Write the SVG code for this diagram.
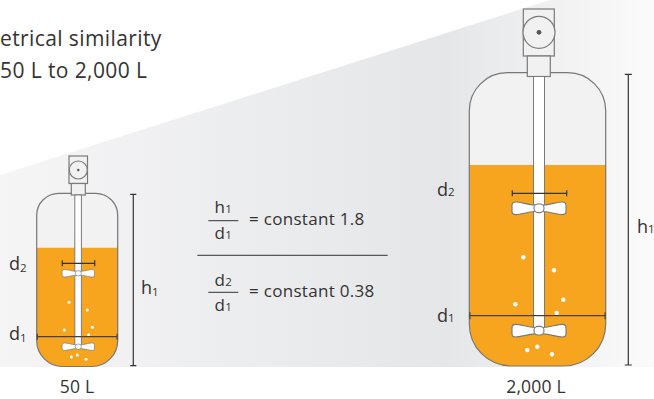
<svg xmlns="http://www.w3.org/2000/svg" width="654" height="399" viewBox="0 0 654 399">
  <defs>
    <linearGradient id="bgGrad" x1="0" y1="0" x2="654" y2="0" gradientUnits="userSpaceOnUse">
      <stop offset="0" stop-color="#f5f5f6"/>
      <stop offset="0.68" stop-color="#e5e6e8"/>
      <stop offset="1" stop-color="#fbfbfb"/>
    </linearGradient>
    <!-- bow-tie impeller blade, centred on the shaft, half-width 27 -->
    <g id="impeller">
      <path class="blade" d="M-4,-3.2 C-12,-3.8 -18,-6.3 -23.5,-6.3 Q-27,-6.3 -27,-3 L-27,3 Q-27,6.3 -23.5,6.3 C-18,6.3 -12,3.8 -4,3.2 L4,3.2 C12,3.8 18,6.3 23.5,6.3 Q27,6.3 27,3 L27,-3 Q27,-6.3 23.5,-6.3 C18,-6.3 12,-3.8 4,-3.2 Z"/>
      <rect class="blade" x="-5" y="-4.3" width="10" height="8.6" rx="4"/>
    </g>
  </defs>
  <style>
    .txt { font-family: "Open Sans", "Liberation Sans", sans-serif; fill: #333333; }
    .title { font-size: 21px; letter-spacing: 0.4px; }
    .cap { font-size: 17.5px; letter-spacing: 0.2px; }
    .lbl { font-size: 18px; }
    .sub { font-size: 11.5px; }
    .eq { font-size: 17px; letter-spacing: 0.3px; }
    .shell { fill: #f2f2f3; stroke: none; }
    .outline { fill: none; stroke: #777777; stroke-width: 1.2; }
    .liquid { fill: #f7a51f; }
    .part { fill: #f1f1f2; stroke: #7a7a7a; stroke-width: 1.2; }
    .shaft { fill: #ffffff; stroke: #7a7a7a; stroke-width: 1; }
    .blade { fill: #ffffff; stroke: #777777; stroke-width: 1.1; }
    .bubble { fill: #ffffff; }
    .dim { fill: none; stroke: #333333; stroke-width: 1.2; }
    .dimDark { fill: none; stroke: #4a4036; stroke-width: 1.2; }
    .rule { fill: none; stroke: #333333; stroke-width: 1; }
  </style>

  <!-- widening grey backdrop -->
  <polygon points="0,175 550,0 654,0 654,367 0,367" fill="url(#bgGrad)"/>

  <!-- heading -->
  <g id="heading">
    <text class="txt title" x="0" y="46">etrical similarity</text>
    <text class="txt title" x="0" y="78">50 L to 2,000 L</text>
  </g>

  <!-- 50 L vessel -->
  <g id="vessel-50L">
    <path class="shell" d="M36.7,215.3 A22,22 0 0 1 58.7,193.3 L95.7,193.3 A22,22 0 0 1 117.7,215.3 L117.7,340.5 A26,26 0 0 1 91.7,366.5 L62.7,366.5 A26,26 0 0 1 36.7,340.5 Z"/>
    <path class="liquid" d="M36.7,247.7 L117.7,247.7 L117.7,340.5 A26,26 0 0 1 91.7,366.5 L62.7,366.5 A26,26 0 0 1 36.7,340.5 Z"/>
    <path class="outline" d="M36.7,215.3 A22,22 0 0 1 58.7,193.3 L95.7,193.3 A22,22 0 0 1 117.7,215.3 L117.7,340.5 A26,26 0 0 1 91.7,366.5 L62.7,366.5 A26,26 0 0 1 36.7,340.5 Z"/>
    <!-- drive -->
    <rect class="part" x="69" y="156" width="18.5" height="27.5"/>
    <circle class="part" cx="78.3" cy="170" r="9"/>
    <circle cx="78.3" cy="170" r="1.2" fill="#555555"/>
    <rect class="part" x="71.3" y="183.5" width="14" height="11.5"/>
    <!-- shaft and impellers -->
    <rect class="shaft" x="74.8" y="195" width="6.6" height="152"/>
    <use href="#impeller" transform="translate(78.3,273.3) scale(0.6)"/>
    <use href="#impeller" transform="translate(78.3,346.7) scale(0.6)"/>
    <!-- gas bubbles -->
    <circle class="bubble" cx="69" cy="302.3" r="1.5"/>
    <circle class="bubble" cx="87.3" cy="310" r="1.5"/>
    <circle class="bubble" cx="64.3" cy="330" r="1.5"/>
    <circle class="bubble" cx="92.3" cy="327.3" r="1.5"/>
    <circle class="bubble" cx="88.7" cy="334.7" r="1.5"/>
    <circle class="bubble" cx="71.3" cy="357" r="1.5"/>
    <circle class="bubble" cx="77.3" cy="355" r="1.5"/>
    <circle class="bubble" cx="86" cy="359.3" r="1.5"/>
  </g>

  <!-- 2,000 L vessel -->
  <g id="vessel-2000L">
    <path class="shell" d="M469.3,110.7 A38,38 0 0 1 507.3,72.7 L567.7,72.7 A38,38 0 0 1 605.7,110.7 L605.7,324 A42,42 0 0 1 563.7,366 L511.3,366 A42,42 0 0 1 469.3,324 Z"/>
    <path class="liquid" d="M469.3,165 L605.7,165 L605.7,324 A42,42 0 0 1 563.7,366 L511.3,366 A42,42 0 0 1 469.3,324 Z"/>
    <path class="outline" d="M469.3,110.7 A38,38 0 0 1 507.3,72.7 L567.7,72.7 A38,38 0 0 1 605.7,110.7 L605.7,324 A42,42 0 0 1 563.7,366 L511.3,366 A42,42 0 0 1 469.3,324 Z"/>
    <!-- drive -->
    <rect class="part" x="523.3" y="9" width="31" height="47"/>
    <circle class="part" cx="539" cy="32.3" r="16"/>
    <circle cx="539" cy="32.3" r="2.4" fill="#555555"/>
    <rect class="part" x="527.3" y="56" width="23" height="20.5"/>
    <!-- shaft and impellers -->
    <rect class="shaft" x="533.5" y="76.5" width="11" height="254"/>
    <use href="#impeller" transform="translate(539,208.3)"/>
    <use href="#impeller" transform="translate(539,330.7)"/>
    <!-- gas bubbles -->
    <circle class="bubble" cx="523.3" cy="257.3" r="2.2"/>
    <circle class="bubble" cx="554" cy="270.3" r="2.2"/>
    <circle class="bubble" cx="563.3" cy="299.7" r="2.2"/>
    <circle class="bubble" cx="515.3" cy="304.3" r="2.2"/>
    <circle class="bubble" cx="556.7" cy="313" r="2.2"/>
    <circle class="bubble" cx="527.3" cy="350" r="2.2"/>
    <circle class="bubble" cx="537.3" cy="346.7" r="2.2"/>
    <circle class="bubble" cx="552" cy="354.3" r="2.2"/>
  </g>

  <!-- dimension lines -->
  <g id="dimensions">
    <!-- 50 L -->
    <path class="dim" d="M62.3,263.3 H94.7 M62.3,260.3 V266.3 M94.7,260.3 V266.3"/>
    <path class="dimDark" d="M37.3,336.7 H117.1 M37.3,333.7 V339.7 M117.1,333.7 V339.7"/>
    <path class="dim" d="M133.3,194.3 V365.7 M130.3,194.3 H136.3 M130.3,365.7 H136.3"/>
    <!-- 2,000 L -->
    <path class="dim" d="M512.3,193.3 H566.7 M512.3,190.3 V196.3 M566.7,190.3 V196.3"/>
    <path class="dimDark" d="M469.9,315.7 H605.1 M469.9,312.2 V319.2 M605.1,312.2 V319.2"/>
    <path class="dim" d="M628.3,74.3 V365 M624.8,74.3 H631.8 M624.8,365 H631.8"/>
  </g>

  <!-- dimension labels -->
  <g id="labels-50L">
    <text class="txt lbl" x="9" y="270">d<tspan class="sub" dy="2">2</tspan></text>
    <text class="txt lbl" x="9" y="340">d<tspan class="sub" dy="2">1</tspan></text>
    <text class="txt lbl" x="141" y="294">h<tspan class="sub" dy="2">1</tspan></text>
    <text class="txt cap" x="77" y="393" text-anchor="middle">50 L</text>
  </g>
  <g id="labels-2000L">
    <text class="txt lbl" x="437" y="196">d<tspan class="sub">2</tspan></text>
    <text class="txt lbl" x="437" y="321.7">d<tspan class="sub">1</tspan></text>
    <text class="txt lbl" x="637" y="233">h<tspan class="sub">1</tspan></text>
    <text class="txt cap" x="536" y="393" text-anchor="middle">2,000 L</text>
  </g>

  <!-- scale-up ratios -->
  <g id="ratios">
    <text class="txt eq" x="223.3" y="213.3" text-anchor="middle">h<tspan class="sub">1</tspan></text>
    <line class="rule" x1="208.3" y1="220.7" x2="238.3" y2="220.7"/>
    <text class="txt eq" x="223.3" y="239.3" text-anchor="middle">d<tspan class="sub">1</tspan></text>
    <text class="txt eq" x="249" y="225">= constant 1.8</text>
    <line class="rule" x1="197.3" y1="255.3" x2="387.7" y2="255.3"/>
    <text class="txt eq" x="223.3" y="286" text-anchor="middle">d<tspan class="sub">2</tspan></text>
    <line class="rule" x1="208.3" y1="292.3" x2="238.3" y2="292.3"/>
    <text class="txt eq" x="223.3" y="311" text-anchor="middle">d<tspan class="sub">1</tspan></text>
    <text class="txt eq" x="249" y="296.7">= constant 0.38</text>
  </g>
</svg>
